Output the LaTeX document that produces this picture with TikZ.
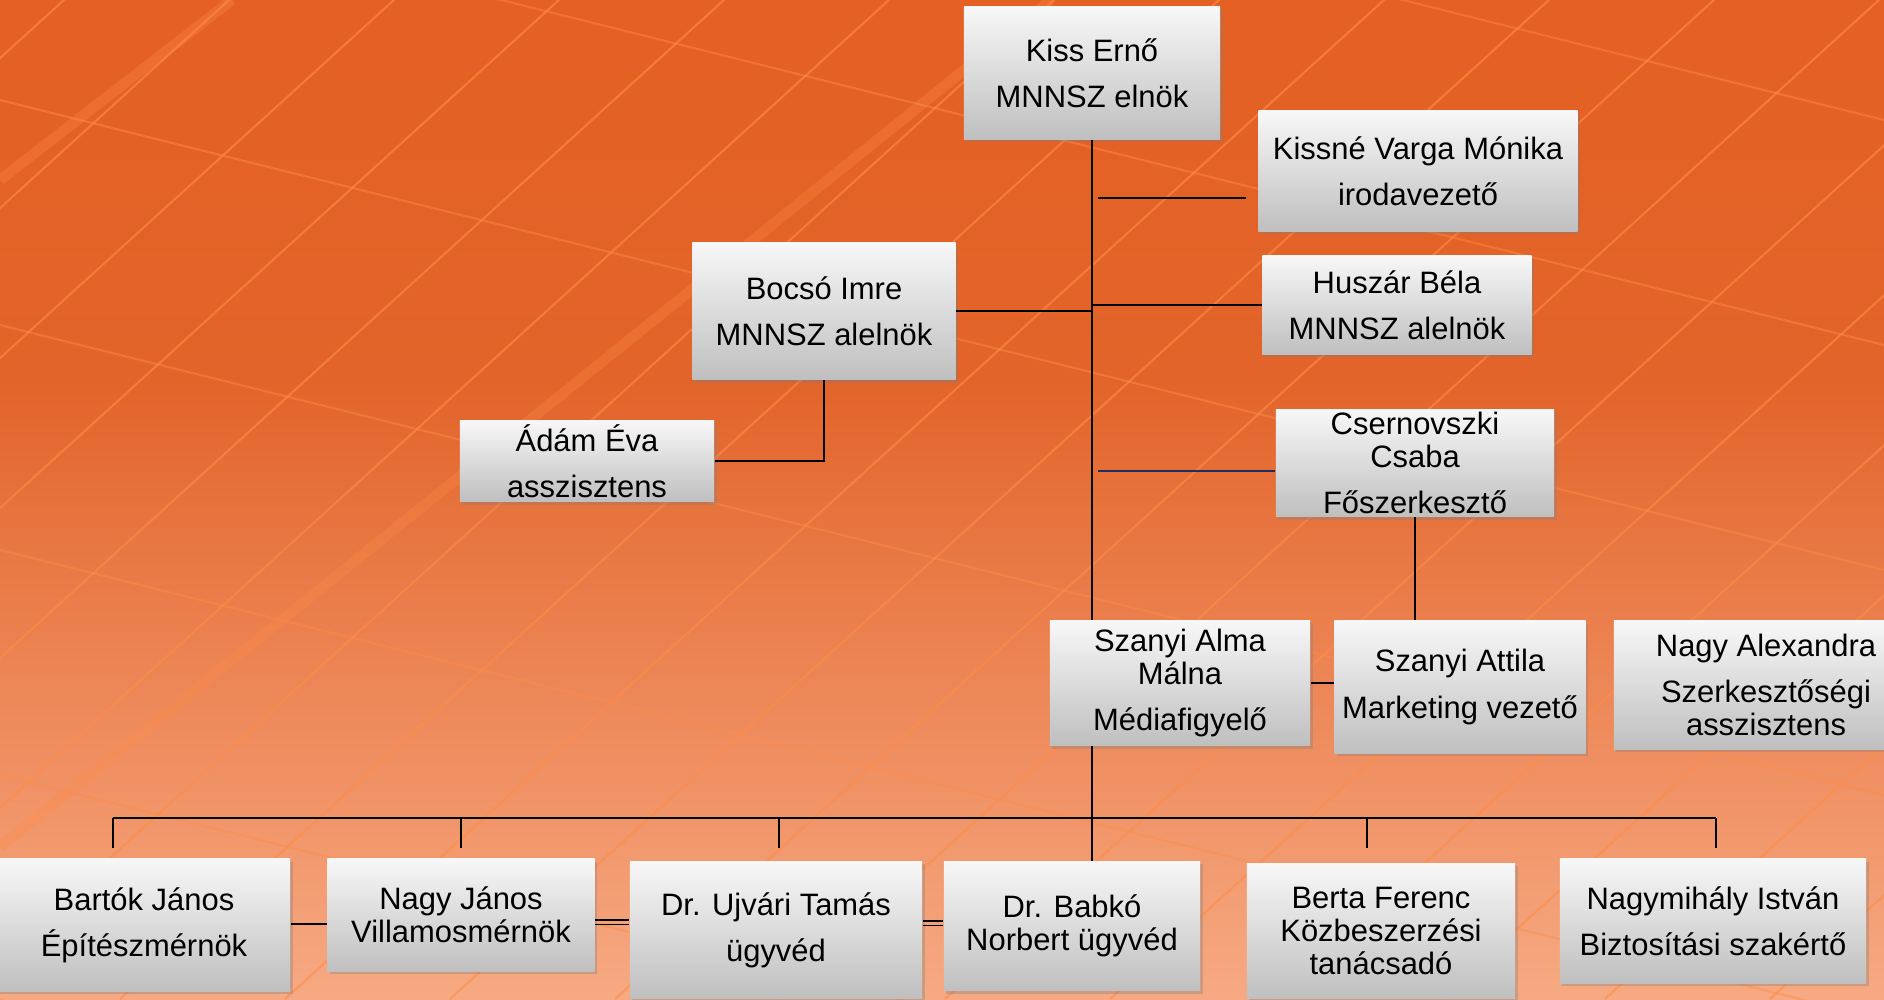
\documentclass[tikz,border=0pt]{standalone}
\usepackage{fontspec}
\setmainfont{Liberation Sans}
\usetikzlibrary{calc}
\usetikzlibrary{shadows}

\definecolor{bgtop}{RGB}{233,90,25}
\definecolor{bgmid}{RGB}{226,100,42}
\definecolor{bglow}{RGB}{240,145,100}
\definecolor{bgpeach}{RGB}{250,185,150}
\definecolor{bgbot}{RGB}{255,205,178}
\definecolor{gridorange}{RGB}{255,140,70}
\definecolor{navyline}{RGB}{31,45,96}

\pgfdeclareverticalshading{panel}{100bp}{color(0bp)=(bgbot); color(18bp)=(bgpeach); color(36bp)=(bglow); color(56bp)=(bgmid); color(100bp)=(bgtop)}

\tikzset{
  person/.style={rectangle, inner sep=0pt, align=center,
    top color=white!97!black, bottom color=black!25,
    drop shadow={shadow xshift=0.025cm, shadow yshift=-0.03cm, opacity=0.35},
    font=\fontsize{8.8}{9.3}\selectfont},
  gridline/.style={gridorange, opacity=0.6, line width=0.6pt},
  link/.style={line width=0.6pt}
}

\begin{document}
\begin{tikzpicture}[x=0.01cm, y=-0.01cm]
      \useasboundingbox (0,0) rectangle (1884,999);

      % background: solar panel
      \shade[shading=panel] (0,0) rectangle (1884,999);
      \begin{scope}
        \clip (0,0) rectangle (1884,999);
        \foreach \x in {-1200,-1035,...,2000}
          \draw[gridline] (\x,999) -- ++(1100,-1000);
        \foreach \y in {-350,-125,...,1000}
          \draw[gridline, opacity=0.45] (0,\y) -- ++(1884,470);
        \draw[gridline, line width=3pt, opacity=0.3] (0,847) -- (1051,0);
        \draw[gridline, line width=3pt, opacity=0.3] (0,180) -- (232,0);
      \end{scope}

      \node[person, minimum width=2.56cm, minimum height=1.32cm] (kiss) at (1092,73) {Kiss Ernő\\[3.8pt]MNNSZ elnök};
      \node[person, minimum width=3.19cm, minimum height=1.20cm] (varga) at (1418,171) {Kissné Varga Mónika\\[3.8pt]irodavezető};
      \node[person, minimum width=2.69cm, minimum height=0.98cm] (huszar) at (1397,305) {Huszár Béla\\[3.8pt]MNNSZ alelnök};
      \node[person, minimum width=2.63cm, minimum height=1.37cm] (bocso) at (824,311) {Bocsó Imre\\[3.8pt]MNNSZ alelnök};
      \node[person, minimum width=2.54cm, minimum height=0.81cm] (adam) at (587,461) {Ádám Éva\\[3.8pt]asszisztens};
      \node[person, minimum width=2.78cm, minimum height=1.07cm] (csern) at (1415,463) {Csernovszki\\Csaba\\[3.8pt]Főszerkesztő};
      \node[person, minimum width=2.60cm, minimum height=1.25cm] (alma) at (1180,683) {Szanyi Alma\\Málna\\[3.8pt]Médiafigyelő};
      \node[person, minimum width=2.51cm, minimum height=1.32cm] (attila) at (1460,687) {Szanyi Attila\\[3.8pt]Marketing vezető};
      \node[person, minimum width=3.04cm, minimum height=1.28cm] (alexa) at (1766,685) {Nagy Alexandra\\[3.8pt]Szerkesztőségi\\asszisztens};

      \node[person, minimum width=2.92cm, minimum height=1.32cm] (bartok) at (144,925) {Bartók János\\[3.8pt]Építészmérnök};
      \node[person, minimum width=2.67cm, minimum height=1.12cm] (nagyj) at (461,915) {Nagy János\\Villamosmérnök};
      \node[person, minimum width=2.92cm, minimum height=1.37cm] (ujvari) at (776,930) {Dr. Ujvári Tamás\\[3.8pt]ügyvéd};
      \node[person, minimum width=2.56cm, minimum height=1.29cm] (babko) at (1072,926) {Dr. Babkó\\Norbert ügyvéd};
      \node[person, minimum width=2.68cm, minimum height=1.35cm] (berta) at (1381,931) {Berta Ferenc\\Közbeszerzési\\tanácsadó};
      \node[person, minimum width=3.06cm, minimum height=1.24cm] (nagym) at (1713,921) {Nagymihály István\\[3.8pt]Biztosítási szakértő};

      % trunk and branches
      \draw[link] (kiss.south) -- (kiss.south |- alma.north);
      \draw[link] (kiss.south |- alma.south) -- (kiss.south |- babko.north);
      \draw[link, shorten <=0.06cm, shorten >=0.12cm] (kiss.south |- 0,198) -- (varga.west |- 0,198);
      \draw[link] (kiss.south |- huszar.west) -- (huszar.west);
      \draw[link] (bocso.east) -- (kiss.south |- bocso.east);
      \draw[link] (bocso.south) |- (adam.east);
      \draw[link, navyline, shorten <=0.06cm] (kiss.south |- 0,471) -- (csern.west |- 0,471);
      \draw[link] (csern.south) -- (csern.south |- attila.north);
      \draw[link] (alma.east) -- (alma.east -| attila.west);

      % bottom row
      \coordinate (bus) at (kiss.south |- 0,818);
      \draw[link] (bus -| 113,0) -- (bus -| 1716,0);
      \foreach \x in {113,461,779,1367,1716}
        \draw[link] (bus -| \x,0) -- ++(0,30);
      \draw[link] (bartok.east |- 0,924) -- (nagyj.west |- 0,924);
      \draw[thin] (nagyj.east |- 0,920) -- (ujvari.west |- 0,920);
      \draw[thin] (nagyj.east |- 0,924.5) -- (ujvari.west |- 0,924.5);
      \draw[thin] (ujvari.east |- 0,921) -- (babko.west |- 0,921);
      \draw[thin] (ujvari.east |- 0,925.5) -- (babko.west |- 0,925.5);
    \end{tikzpicture}
\end{document}
